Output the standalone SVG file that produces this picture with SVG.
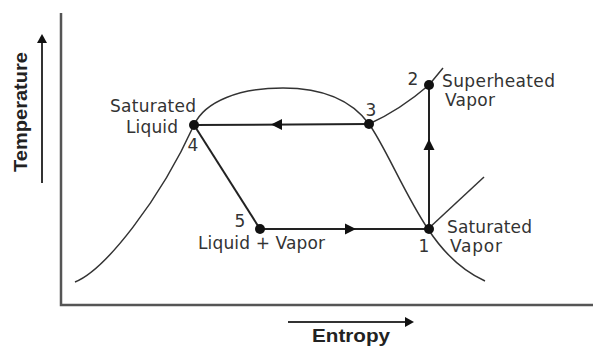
<svg xmlns="http://www.w3.org/2000/svg" width="593" height="347" viewBox="0 0 593 347">
<style>
.lbl{font-family:"DejaVu Sans","Liberation Sans",sans-serif;font-size:17px;fill:#333}
.ax{font-family:"Liberation Sans",Arial,sans-serif;font-size:19px;font-weight:bold;fill:#222}
.curve{fill:none;stroke:#333;stroke-width:1.5}
.cyc{fill:none;stroke:#222;stroke-width:2}
.axis{fill:none;stroke:#555;stroke-width:2.5}
.dot{fill:#111}
.tri{fill:#111}
</style>
<rect width="593" height="347" fill="#fff"/>
<g id="axes">
  <path class="axis" d="M61,13 L61,305 L593,305"/>
  <path d="M42,183 L42,40" stroke="#333" stroke-width="2" fill="none"/>
  <polygon class="tri" points="42,34 37,43 47,43"/>
  <path d="M288,322 L406,322" stroke="#333" stroke-width="2" fill="none"/>
  <polygon class="tri" points="414,322 405,317 405,327"/>
  <text class="ax" transform="translate(27,112) rotate(-90)" text-anchor="middle" textLength="120" lengthAdjust="spacingAndGlyphs">Temperature</text>
  <text class="ax" x="351" y="342" text-anchor="middle" textLength="78" lengthAdjust="spacingAndGlyphs">Entropy</text>
</g>
<g id="dome">
  <path class="curve" d="M75,282 C105,270 160,200 194,125 C205,101 240,88 283,88 C320,88 350,98 369,124 C385,146 405,195 428,229 C445,255 465,272 485,281"/>
  <path class="curve" d="M369,124 Q400,110 429,85 L443,68"/>
  <path class="curve" d="M428,229 L484,177"/>
</g>
<g id="connectors">
  <path class="cyc" d="M369,124 L194,125"/>
  <polygon class="tri" points="271,124.5 282,119 282,130"/>
  <path class="cyc" d="M194,125 L260,229"/>
  <path class="cyc" d="M260,229 L428,229"/>
  <polygon class="tri" points="356,229 345,223.5 345,234.5"/>
  <path class="cyc" d="M429,229 L429,85"/>
  <polygon class="tri" points="429,139 423.5,150 434.5,150"/>
</g>
<g id="node-4">
  <circle class="dot" cx="194" cy="125" r="5"/>
  <text class="lbl" x="153" y="112" text-anchor="middle" textLength="86">Saturated</text>
  <text class="lbl" x="152" y="133" text-anchor="middle" textLength="52">Liquid</text>
  <text class="lbl" x="193" y="151" text-anchor="middle">4</text>
</g>
<g id="node-3">
  <circle class="dot" cx="369" cy="124" r="5"/>
  <text class="lbl" x="371" y="116" text-anchor="middle">3</text>
</g>
<g id="node-2">
  <circle class="dot" cx="429" cy="85" r="5"/>
  <text class="lbl" x="413" y="85" text-anchor="middle">2</text>
  <text class="lbl" x="442" y="87" textLength="113">Superheated</text>
  <text class="lbl" x="445" y="106" textLength="50">Vapor</text>
</g>
<g id="node-5">
  <circle class="dot" cx="260" cy="229" r="5"/>
  <text class="lbl" x="240" y="227" text-anchor="middle">5</text>
  <text class="lbl" x="198" y="249" textLength="127">Liquid + Vapor</text>
</g>
<g id="node-1">
  <circle class="dot" cx="429" cy="229" r="5"/>
  <text class="lbl" x="424" y="252" text-anchor="middle">1</text>
  <text class="lbl" x="447" y="233" textLength="85">Saturated</text>
  <text class="lbl" x="450" y="252" textLength="52">Vapor</text>
</g>
</svg>
